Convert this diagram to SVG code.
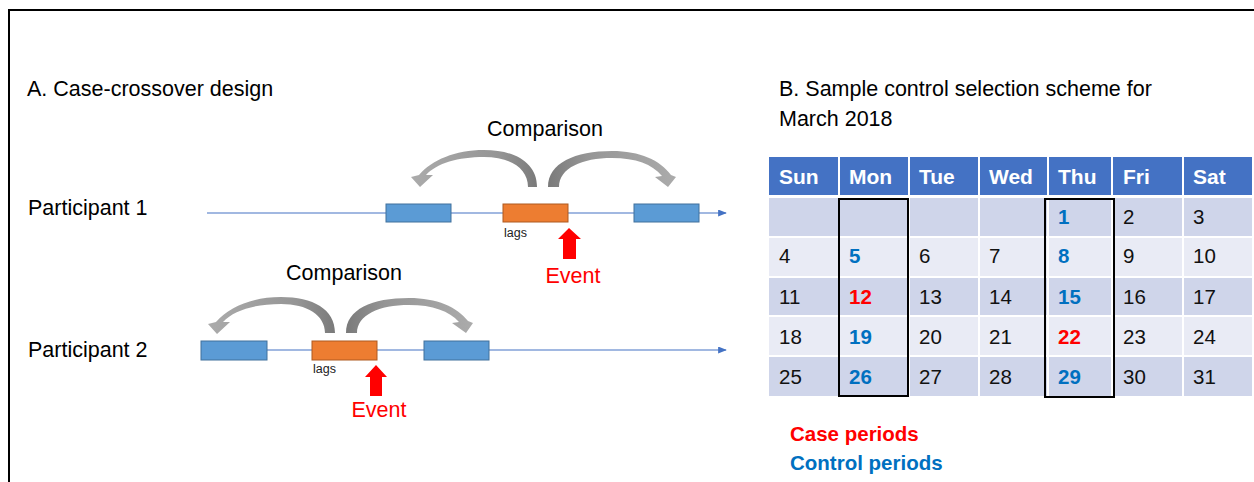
<svg xmlns="http://www.w3.org/2000/svg" width="1254" height="482" viewBox="0 0 1254 482">
  <defs>
    <style>
      .t { font-family: "Liberation Sans", Arial, sans-serif; font-size: 21.5px; fill: #000; }
      .lags { font-family: "Liberation Sans", Arial, sans-serif; font-size: 12.5px; fill: #222; }
      .ev { font-family: "Liberation Sans", Arial, sans-serif; font-size: 21.5px; fill: #ff0000; }
      .hd { font-family: "Liberation Sans", Arial, sans-serif; font-size: 21px; font-weight: bold; fill: #fff; }
      .d { font-family: "Liberation Sans", Arial, sans-serif; font-size: 20.5px; fill: #111; }
      .db { font-family: "Liberation Sans", Arial, sans-serif; font-size: 20.5px; font-weight: bold; fill: #0070c0; }
      .dr { font-family: "Liberation Sans", Arial, sans-serif; font-size: 20.5px; font-weight: bold; fill: #ff0000; }
      .lg { font-family: "Liberation Sans", Arial, sans-serif; font-size: 20.5px; font-weight: bold; }
      .ctl { fill: #5b9bd5; stroke: #41719c; stroke-width: 1; }
      .lag { fill: #ed7d31; stroke: #ae5a21; stroke-width: 1; }
      .tl { stroke: #4472c4; stroke-width: 1.2; fill: none; }
      .hc { fill: #4472c4; }
      .rd { fill: #cfd5ea; }
      .rl { fill: #e9ebf5; }
      .sel { fill: none; stroke: #000; stroke-width: 2; }
    </style>
    <linearGradient id="gL" x1="0" y1="0" x2="1" y2="0">
      <stop offset="0" stop-color="#ababab"/>
      <stop offset="0.7" stop-color="#959595"/>
      <stop offset="1" stop-color="#7a7a7a"/>
    </linearGradient>
    <linearGradient id="gR" x1="0" y1="0" x2="1" y2="0">
      <stop offset="0" stop-color="#7a7a7a"/>
      <stop offset="0.3" stop-color="#959595"/>
      <stop offset="1" stop-color="#ababab"/>
    </linearGradient>
    <marker id="ah" viewBox="0 0 10 8" refX="9" refY="4" markerWidth="9" markerHeight="7" markerUnits="userSpaceOnUse" orient="auto">
      <path d="M0,0 L10,4 L0,8 Z" fill="#4472c4"/>
    </marker>
  </defs>

  <rect width="1254" height="482" fill="#fff"/>
  <path d="M9,482 V10 H1254" fill="none" stroke="#000" stroke-width="2"/>

  <!-- Panel A -->
  <g id="titleA"><text class="t" x="27" y="96">A. Case-crossover design</text></g>
  <g id="p1label"><text class="t" x="28" y="215">Participant 1</text></g>
  <g id="p2label"><text class="t" x="28" y="357">Participant 2</text></g>

  <g id="connectors">
    <line class="tl" x1="207" y1="213" x2="726" y2="213" marker-end="url(#ah)"/>
    <line class="tl" x1="201" y1="350" x2="726" y2="350" marker-end="url(#ah)"/>
    <!-- P1 curved arrows -->
    <path fill="url(#gL)" d="M537,187 C537,163 515,150 484,150 C455,150 432,160 419,175 L411,177 L420,187 L433,175 L426,175 C437,163 458,157 484,157 C510,157 528,168 528,187 Z"/>
    <path fill="url(#gR)" d="M548,187 C548,163 575,151 612,151 C640,151 660,160 671,175 L676,177 L668,187 L655,177 L662,176 C652,164 636,158 612,158 C582,158 559,168 559,187 Z"/>
    <!-- P2 curved arrows -->
    <path fill="url(#gL)" d="M335,333 C335,309 313,297 281,297 C252,297 229,307 216,322 L208,324 L217,334 L230,322 L223,322 C234,310 255,304 281,304 C307,304 325,315 325,333 Z"/>
    <path fill="url(#gR)" d="M346,333 C346,309 372,298 409,298 C437,298 457,307 468,321 L473,323 L466,333 L452,323 L459,322 C449,311 433,305 409,305 C379,305 357,315 357,333 Z"/>
  </g>

  <g id="comp1"><text class="t" x="545" y="136" text-anchor="middle">Comparison</text></g>
  <g id="comp2"><text class="t" x="344" y="280" text-anchor="middle">Comparison</text></g>

  <g id="p1ctl1"><rect class="ctl" x="386" y="204" width="65" height="18"/></g>
  <g id="p1lag"><rect class="lag" x="503" y="204" width="65" height="18"/><text class="lags" x="504" y="237">lags</text></g>
  <g id="p1ctl2"><rect class="ctl" x="634" y="204" width="65" height="18"/></g>
  <g id="p1event">
    <path d="M569,228 L581,239 L576,239 L576,259 L563,259 L563,239 L558,239 Z" fill="#ff0000"/>
    <text class="ev" x="573" y="283" text-anchor="middle">Event</text>
  </g>

  <g id="p2ctl1"><rect class="ctl" x="201" y="341" width="66" height="19"/></g>
  <g id="p2lag"><rect class="lag" x="312" y="341" width="65" height="19"/><text class="lags" x="313" y="373">lags</text></g>
  <g id="p2ctl2"><rect class="ctl" x="424" y="341" width="65" height="19"/></g>
  <g id="p2event">
    <path d="M376,365 L387,377 L382,377 L382,396 L370,396 L370,377 L365,377 Z" fill="#ff0000"/>
    <text class="ev" x="379" y="417" text-anchor="middle">Event</text>
  </g>

  <!-- Panel B -->
  <g id="titleB">
    <text class="t" x="779" y="96">B. Sample control selection scheme for</text>
    <text class="t" x="779" y="126">March 2018</text>
  </g>

  <g id="calendar">
    <g id="cal-bg">
      <rect class="hc" x="769" y="157" width="69" height="38"/>
      <rect class="hc" x="840" y="157" width="68" height="38"/>
      <rect class="hc" x="910" y="157" width="68" height="38"/>
      <rect class="hc" x="980" y="157" width="67" height="38"/>
      <rect class="hc" x="1049" y="157" width="62" height="38"/>
      <rect class="hc" x="1113" y="157" width="69" height="38"/>
      <rect class="hc" x="1184" y="157" width="68" height="38"/>

      <rect class="rd" x="769" y="198" width="483" height="38"/>
      <rect class="rl" x="769" y="238" width="483" height="38"/>
      <rect class="rd" x="769" y="278" width="483" height="37"/>
      <rect class="rl" x="769" y="317" width="483" height="38"/>
      <rect class="rd" x="769" y="357" width="483" height="39"/>
      <g stroke="#fff" stroke-width="2">
        <line x1="839" y1="198" x2="839" y2="396"/>
        <line x1="909" y1="198" x2="909" y2="396"/>
        <line x1="979" y1="198" x2="979" y2="396"/>
        <line x1="1048" y1="198" x2="1048" y2="396"/>
        <line x1="1112" y1="198" x2="1112" y2="396"/>
        <line x1="1183" y1="198" x2="1183" y2="396"/>
      </g>
    </g>
    <g id="cal-head">
      <text class="hd" x="779" y="184">Sun</text>
      <text class="hd" x="849" y="184">Mon</text>
      <text class="hd" x="919" y="184">Tue</text>
      <text class="hd" x="989" y="184">Wed</text>
      <text class="hd" x="1058" y="184">Thu</text>
      <text class="hd" x="1123" y="184">Fri</text>
      <text class="hd" x="1193" y="184">Sat</text>
    </g>
    <g id="cal-days">
      <text class="db" x="1058" y="224">1</text>
      <text class="d" x="1123" y="224">2</text>
      <text class="d" x="1193" y="224">3</text>

      <text class="d" x="779" y="263">4</text>
      <text class="db" x="849" y="263">5</text>
      <text class="d" x="919" y="263">6</text>
      <text class="d" x="989" y="263">7</text>
      <text class="db" x="1058" y="263">8</text>
      <text class="d" x="1123" y="263">9</text>
      <text class="d" x="1193" y="263">10</text>

      <text class="d" x="779" y="304">11</text>
      <text class="dr" x="849" y="304">12</text>
      <text class="d" x="919" y="304">13</text>
      <text class="d" x="989" y="304">14</text>
      <text class="db" x="1058" y="304">15</text>
      <text class="d" x="1123" y="304">16</text>
      <text class="d" x="1193" y="304">17</text>

      <text class="d" x="779" y="344">18</text>
      <text class="db" x="849" y="344">19</text>
      <text class="d" x="919" y="344">20</text>
      <text class="d" x="989" y="344">21</text>
      <text class="dr" x="1058" y="344">22</text>
      <text class="d" x="1123" y="344">23</text>
      <text class="d" x="1193" y="344">24</text>

      <text class="d" x="779" y="384">25</text>
      <text class="db" x="849" y="384">26</text>
      <text class="d" x="919" y="384">27</text>
      <text class="d" x="989" y="384">28</text>
      <text class="db" x="1058" y="384">29</text>
      <text class="d" x="1123" y="384">30</text>
      <text class="d" x="1193" y="384">31</text>
    </g>
    <g id="sel-mon"><rect class="sel" x="839" y="199" width="69" height="197"/></g>
    <g id="sel-thu"><rect class="sel" x="1045" y="199" width="69" height="198"/></g>
  </g>

  <g id="legend">
    <text class="lg" x="790" y="441" fill="#ff0000">Case periods</text>
    <text class="lg" x="790" y="470" fill="#0070c0">Control periods</text>
  </g>
</svg>
